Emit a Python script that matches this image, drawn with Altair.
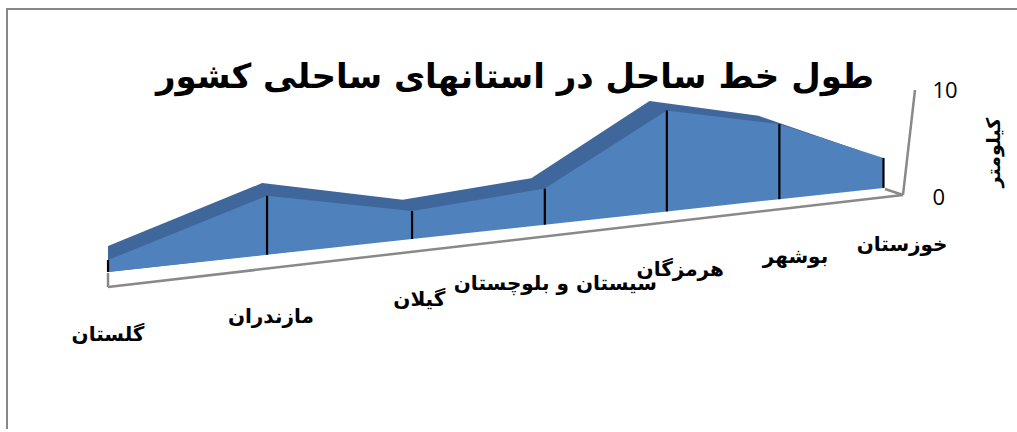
import altair as alt
import pandas as pd

# ---- data ----
provinces = ["گلستان", "مازندران", "گیلان", "سیستان و بلوچستان", "هرمزگان", "بوشهر", "خوزستان"]
coast_len = [0.87, 4.48, 2.22, 2.99, 8.73, 6.75, 2.80]
axis_values = [0, 10]
title_text = "طول خط ساحل در استانهای ساحلی کشور"
axis_title = "کیلومتر"

df = pd.DataFrame({"idx": list(range(len(provinces))), "province": provinces, "value": coast_len})
one = pd.DataFrame({"k": [0]})

FONT = "DejaVu Sans"
FRONT = "#4F81BD"
TOPFACE = "#3F679B"
GRID = "#898989"

xs = alt.Scale(domain=[-0.606, 4.769], nice=False, zero=False)
ys = alt.Scale(domain=[-21.68, 17.57], nice=False, zero=False)

yaxis = alt.Axis(
    orient="right", values=axis_values, domain=False, ticks=False, grid=False,
    labelFont="Open Sans", labelFontSize=22, labelColor="black", labelPadding=29,
    labelAlign="left", labelBaseline="middle",
    title=axis_title, titleAngle=270, titleX=90, titleY=143, titleAlign="center",
    titleBaseline="middle", titleFont=FONT, titleFontSize=19, titleFontWeight="bold",
    titleColor="black",
)

# 3-D (perspective) projection of the category index, done with Vega-Lite transforms
base = alt.Chart(df).transform_calculate(
    f="1/(1+0.0483*datum.idx)"
).transform_calculate(
    xp="datum.idx*datum.f"
).transform_calculate(
    base="-7.01+1.69*datum.xp",
    xb="datum.xp*0.969",
    lx="datum.xp*1.024",
    ly="-12.9+1.803*datum.xp",
).transform_calculate(
    top="datum.base+datum.value*1.29*datum.f"
).transform_calculate(
    topb="datum.top+1.31-0.131*datum.xp"
)

back = base.mark_area(color=TOPFACE, orient="vertical").encode(
    x=alt.X("xb:Q", scale=xs, axis=None),
    y=alt.Y("topb:Q", scale=ys, axis=yaxis),
    y2="base:Q",
)
front = base.mark_area(color=FRONT, orient="vertical").encode(
    x=alt.X("xp:Q", scale=xs, axis=None),
    y=alt.Y("top:Q", scale=ys, axis=yaxis),
    y2="base:Q",
)
drops = base.mark_rule(color="black", strokeWidth=2.2).encode(
    x=alt.X("xp:Q", scale=xs, axis=None),
    y=alt.Y("base:Q", scale=ys, axis=yaxis),
    y2="top:Q",
)
labels = base.mark_text(font=FONT, fontSize=20, fontWeight="bold", color="black",
                        align="center", baseline="middle").encode(
    x=alt.X("lx:Q", scale=xs, axis=None),
    y=alt.Y("ly:Q", scale=ys, axis=yaxis),
    text="province:N",
)

def seg(x1, y1, x2, y2):
    return alt.Chart(one).mark_rule(color=GRID, strokeWidth=2.5).encode(
        x=alt.XDatum(x1, scale=xs, axis=None),
        y=alt.YDatum(y1, scale=ys, axis=yaxis),
        x2=alt.X2Datum(x2),
        y2=alt.Y2Datum(y2),
    )

floor = seg(0, -8.41, 4.769, 0.19)
floor_left = seg(0, -7.1, 0, -8.41)
floor_right = seg(4.769, 0.19, 4.661, 0.75)
wall_axis = seg(4.769, 0.19, 4.841, 10)

frame_top = alt.Chart(one).mark_rule(color="#878787", strokeWidth=2).encode(
    x=alt.value(-1), x2=alt.value(1200), y=alt.value(0))
frame_left = alt.Chart(one).mark_rule(color="#878787", strokeWidth=2).encode(
    x=alt.value(0), y=alt.value(-1), y2=alt.value(600))

title = alt.Chart(one).mark_text(text=title_text, font=FONT, fontSize=34, fontWeight="bold",
                                 color="black", align="center", baseline="middle").encode(
    x=alt.value(508), y=alt.value(69))

chart = alt.layer(
    floor, floor_left, floor_right, wall_axis,
    back, front, drops, labels, title, frame_top, frame_left,
).properties(
    width=896, height=420,
    autosize=alt.AutoSizeParams(type="none"),
    padding={"left": 7, "top": 9, "right": 114, "bottom": 0},
    background="white",
).configure_view(stroke=None)

chart.save("out.html", embed_options={"renderer": "svg", "actions": False})
